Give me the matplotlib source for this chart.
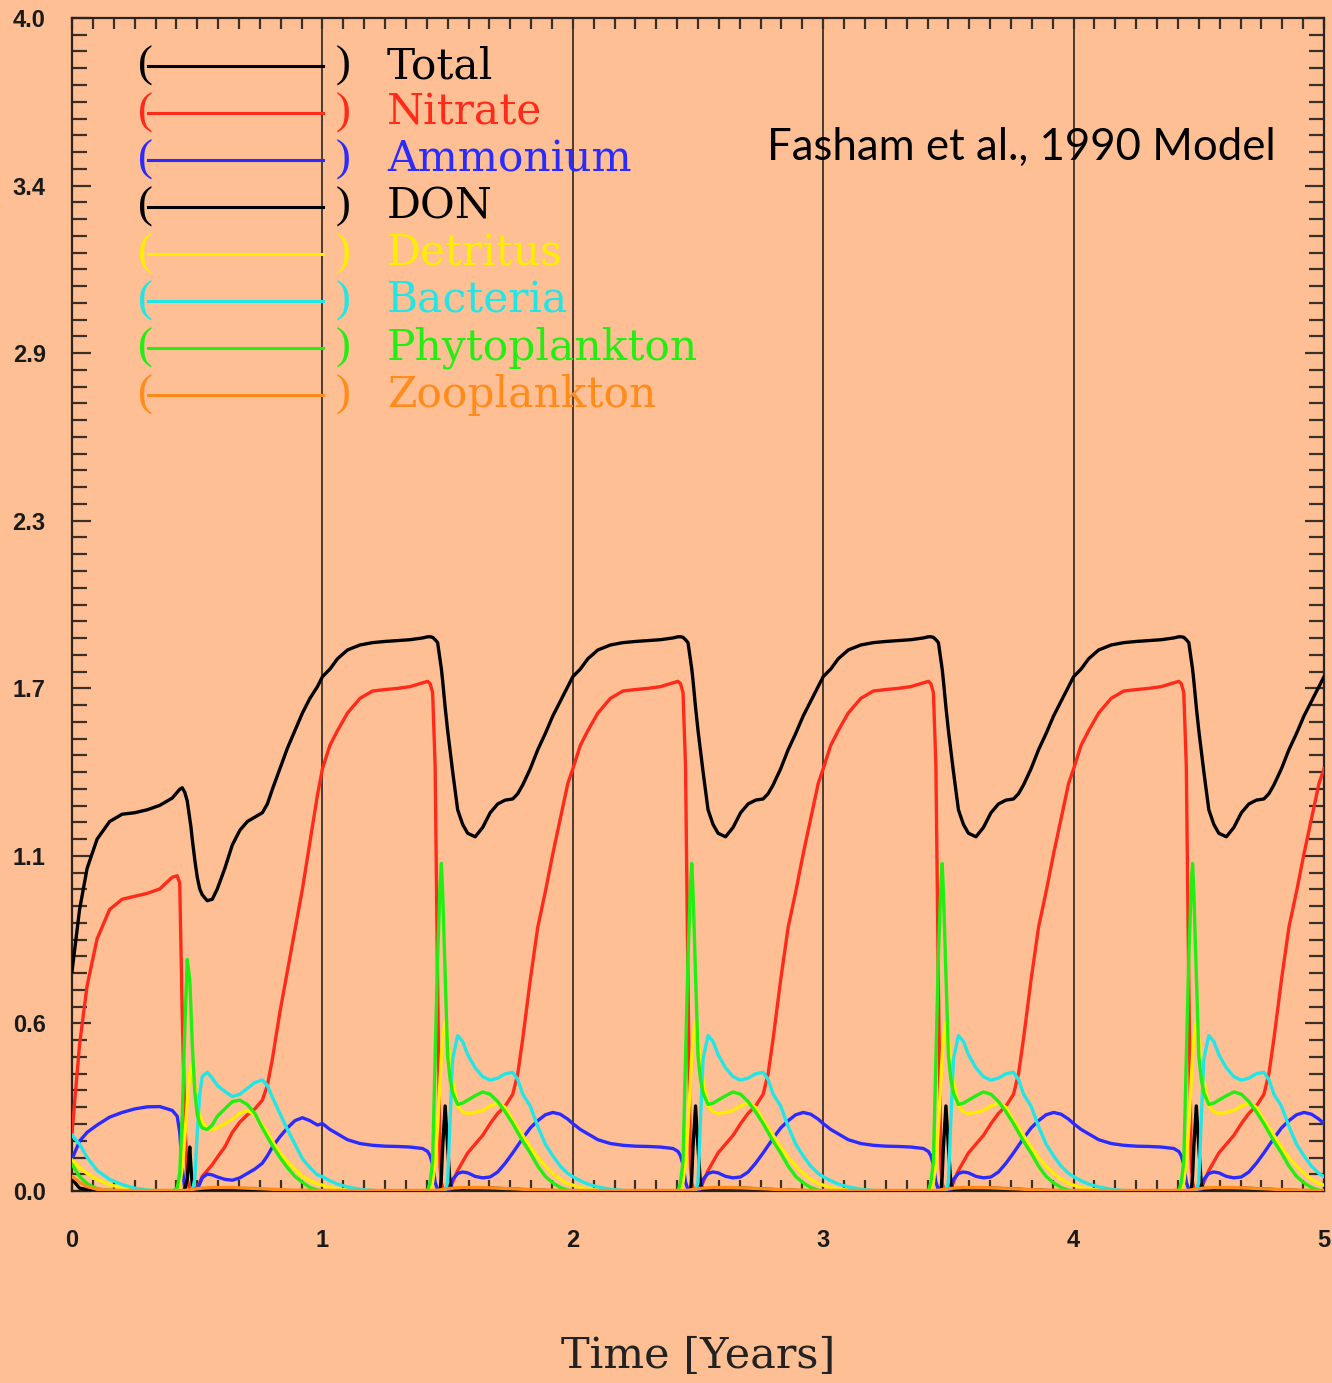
import numpy as np
import matplotlib
matplotlib.use("Agg")
import matplotlib.pyplot as plt
from matplotlib.ticker import FixedLocator, MultipleLocator

# Fasham et al. (1990) ecosystem model, 5 model years

# tick labels: small bold sans
plt.rcParams["font.family"] = "Liberation Sans"
plt.rcParams["font.weight"] = "bold"
plt.rcParams["font.size"] = 17

# phase within one model year (shared sampling for all series)
phase = [0.00, 0.03, 0.06, 0.10, 0.15, 0.20, 0.25, 0.30, 0.35, 0.40,
         0.42, 0.43, 0.44, 0.45, 0.46, 0.47, 0.475, 0.48, 0.49, 0.50,
         0.51, 0.52, 0.54, 0.56, 0.58, 0.61, 0.64, 0.67, 0.70, 0.73,
         0.76, 0.78, 0.80, 0.83, 0.86, 0.89, 0.92, 0.95, 0.98]

names = ["Total", "Nitrate", "Ammonium", "DON", "Detritus", "Bacteria",
         "Phytoplankton", "Zooplankton"]
colors = ["#000000", "#ff2a1a", "#2b2bff", "#000000", "#ffee00", "#22e6e6",
          "#22ee11", "#ff8c1a"]

# first (spin-up) year
total_y0 = [0.75, 0.96, 1.10, 1.20, 1.26, 1.285, 1.29, 1.30, 1.315, 1.34,
            1.36, 1.37, 1.375, 1.36, 1.33, 1.27, 1.24, 1.20, 1.13, 1.07,
            1.03, 1.01, 0.99, 0.995, 1.03, 1.10, 1.18, 1.23, 1.26, 1.275,
            1.29, 1.32, 1.37, 1.44, 1.51, 1.57, 1.63, 1.68, 1.72]
nitrate_y0 = [0.20, 0.50, 0.70, 0.86, 0.96, 0.995, 1.005, 1.015, 1.03, 1.07,
              1.075, 1.05, 0.60, 0.25, 0.04, 0.005, 0.0, 0.0, 0.0, 0.01,
              0.03, 0.05, 0.07, 0.09, 0.115, 0.15, 0.20, 0.235, 0.26, 0.28,
              0.31, 0.36, 0.45, 0.61, 0.75, 0.89, 1.03, 1.19, 1.35]
ammonium_y0 = [0.11, 0.17, 0.20, 0.225, 0.252, 0.268, 0.28, 0.287, 0.288, 0.275,
               0.255, 0.20, 0.08, 0.01, 0.0, 0.0, 0.0, 0.0, 0.0, 0.005,
               0.025, 0.045, 0.058, 0.055, 0.048, 0.04, 0.037, 0.045, 0.06, 0.075,
               0.095, 0.12, 0.15, 0.185, 0.215, 0.24, 0.25, 0.24, 0.225]
don_y0 = [0.04, 0.01, 0.005, 0.003, 0.002, 0.0, 0.0, 0.0, 0.0, 0.0,
          0.0, 0.0, 0.0, 0.005, 0.04, 0.15, 0.08, 0.02, 0.008, 0.006,
          0.006, 0.006, 0.007, 0.008, 0.008, 0.008, 0.008, 0.008, 0.007, 0.006,
          0.005, 0.004, 0.003, 0.002, 0.001, 0.0, 0.0, 0.0, 0.0]
detritus_y0 = [0.105, 0.08, 0.06, 0.04, 0.022, 0.01, 0.004, 0.0, 0.0, 0.0,
               0.0, 0.02, 0.08, 0.18, 0.30, 0.40, 0.43, 0.42, 0.36, 0.30,
               0.26, 0.235, 0.215, 0.21, 0.215, 0.23, 0.245, 0.265, 0.275, 0.26,
               0.225, 0.20, 0.17, 0.13, 0.10, 0.075, 0.05, 0.035, 0.025]
bacteria_y0 = [0.19, 0.16, 0.115, 0.07, 0.04, 0.022, 0.01, 0.004, 0.0, 0.0,
               0.0, 0.0, 0.0, 0.0, 0.0, 0.0, 0.0, 0.0, 0.04, 0.20,
               0.33, 0.39, 0.405, 0.385, 0.36, 0.34, 0.322, 0.33, 0.35, 0.37,
               0.379, 0.36, 0.32, 0.265, 0.21, 0.16, 0.11, 0.08, 0.055]
phyto_y0 = [0.09, 0.05, 0.025, 0.008, 0.002, 0.0, 0.0, 0.0, 0.0, 0.0,
            0.01, 0.06, 0.25, 0.55, 0.79, 0.72, 0.62, 0.50, 0.34, 0.26,
            0.23, 0.215, 0.21, 0.225, 0.255, 0.28, 0.305, 0.31, 0.295, 0.265,
            0.215, 0.185, 0.155, 0.115, 0.08, 0.05, 0.03, 0.012, 0.004]
zoo_y0 = [0.05, 0.03, 0.015, 0.006, 0.003, 0.002, 0.002, 0.002, 0.002, 0.002,
          0.002, 0.002, 0.002, 0.002, 0.003, 0.004, 0.005, 0.006, 0.007, 0.008,
          0.009, 0.01, 0.011, 0.012, 0.012, 0.012, 0.012, 0.011, 0.01, 0.009,
          0.008, 0.007, 0.006, 0.005, 0.004, 0.003, 0.003, 0.002, 0.002]

# repeating annual cycle (years 1-4)
total_cyc = [1.754, 1.78, 1.815, 1.845, 1.862, 1.870, 1.874, 1.877, 1.88, 1.886,
             1.89, 1.89, 1.888, 1.88, 1.87, 1.81, 1.78, 1.74, 1.65, 1.57,
             1.50, 1.43, 1.30, 1.25, 1.22, 1.208, 1.24, 1.29, 1.32, 1.333,
             1.337, 1.355, 1.385, 1.44, 1.505, 1.56, 1.62, 1.67, 1.72]
nitrate_cyc = [1.44, 1.52, 1.57, 1.63, 1.68, 1.705, 1.71, 1.714, 1.72, 1.733,
               1.738, 1.73, 1.70, 1.45, 0.70, 0.08, 0.03, 0.01, 0.0, 0.0,
               0.01, 0.03, 0.07, 0.10, 0.13, 0.16, 0.19, 0.23, 0.265, 0.29,
               0.33, 0.40, 0.52, 0.72, 0.90, 1.02, 1.15, 1.27, 1.39]
ammonium_cyc = [0.23, 0.21, 0.195, 0.175, 0.162, 0.156, 0.153, 0.152, 0.15, 0.145,
                0.135, 0.12, 0.09, 0.03, 0.005, 0.0, 0.0, 0.0, 0.0, 0.0,
                0.01, 0.04, 0.06, 0.065, 0.062, 0.05, 0.045, 0.048, 0.065, 0.095,
                0.13, 0.155, 0.18, 0.215, 0.24, 0.26, 0.268, 0.262, 0.245]
don_cyc = [0.0, 0.0, 0.0, 0.0, 0.0, 0.0, 0.0, 0.0, 0.0, 0.0,
           0.0, 0.0, 0.0, 0.0, 0.0, 0.0, 0.05, 0.15, 0.29, 0.15,
           0.02, 0.008, 0.008, 0.009, 0.01, 0.01, 0.01, 0.01, 0.009, 0.008,
           0.007, 0.006, 0.005, 0.004, 0.003, 0.002, 0.001, 0.0, 0.0]
detritus_cyc = [0.02, 0.012, 0.007, 0.003, 0.0, 0.0, 0.0, 0.0, 0.0, 0.0,
                0.0, 0.0, 0.03, 0.10, 0.22, 0.38, 0.46, 0.52, 0.577, 0.52,
                0.44, 0.38, 0.29, 0.27, 0.265, 0.268, 0.275, 0.29, 0.30, 0.285,
                0.24, 0.215, 0.19, 0.15, 0.115, 0.085, 0.06, 0.04, 0.025]
bacteria_cyc = [0.049, 0.035, 0.024, 0.014, 0.006, 0.002, 0.0, 0.0, 0.0, 0.0,
                0.0, 0.0, 0.0, 0.0, 0.0, 0.0, 0.0, 0.0, 0.0, 0.03,
                0.25, 0.45, 0.53, 0.51, 0.465, 0.42, 0.39, 0.378, 0.385, 0.40,
                0.405, 0.38, 0.33, 0.29, 0.22, 0.16, 0.12, 0.085, 0.06]
phyto_cyc = [0.0, 0.0, 0.0, 0.0, 0.0, 0.0, 0.0, 0.0, 0.0, 0.0,
             0.0, 0.03, 0.10, 0.45, 0.80, 1.05, 1.117, 1.02, 0.74, 0.46,
             0.38, 0.335, 0.295, 0.30, 0.31, 0.325, 0.338, 0.33, 0.305, 0.27,
             0.23, 0.20, 0.17, 0.13, 0.085, 0.05, 0.028, 0.012, 0.003]
zoo_cyc = [0.002, 0.002, 0.002, 0.002, 0.002, 0.002, 0.002, 0.002, 0.002, 0.002,
           0.002, 0.002, 0.002, 0.002, 0.003, 0.004, 0.005, 0.006, 0.007, 0.008,
           0.009, 0.01, 0.011, 0.012, 0.012, 0.012, 0.012, 0.011, 0.01, 0.009,
           0.008, 0.007, 0.006, 0.005, 0.004, 0.003, 0.003, 0.002, 0.002]

n_years = 5
ytick_labels = ["0.0", "0.6", "1.1", "1.7", "2.3", "2.9", "3.4", "4.0"]
xtick_labels = ["0", "1", "2", "3", "4", "5"]

first_year = [total_y0, nitrate_y0, ammonium_y0, don_y0, detritus_y0,
              bacteria_y0, phyto_y0, zoo_y0]
cycles = [total_cyc, nitrate_cyc, ammonium_cyc, don_cyc, detritus_cyc,
          bacteria_cyc, phyto_cyc, zoo_cyc]

ph = np.array(phase)
time = np.concatenate([yr + ph for yr in range(n_years)] + [[float(n_years)]])

bg = "#febf94"
fig = plt.figure(figsize=(13.32, 13.83), dpi=100, facecolor=bg)
ax = fig.add_axes([0.0541, 0.1388, 0.9399, 0.8482], facecolor=bg)

# year separators
for yr in range(1, n_years):
    ax.axvline(yr, color="#3c3028", lw=1.3, zorder=1)

for y0, cyc, col in zip(first_year, cycles, colors):
    vals = np.concatenate([y0] + [cyc] * (n_years - 1) + [cyc[:1]])
    ax.plot(time, vals, color=col, lw=2.4, zorder=3, solid_joinstyle="round")

ax.set_xlim(0, n_years)
ax.set_ylim(0, 4)

# axes / ticks
for s in ax.spines.values():
    s.set_linewidth(1.6)
    s.set_color("#2a2420")
ax.yaxis.set_major_locator(FixedLocator(np.linspace(0, 4, len(ytick_labels))))
ax.set_yticklabels(ytick_labels)
ax.yaxis.set_minor_locator(MultipleLocator(4 / 70))
ax.xaxis.set_major_locator(FixedLocator(range(n_years + 1)))
ax.set_xticklabels(xtick_labels)
ax.xaxis.set_minor_locator(MultipleLocator(1 / 12))
ax.tick_params(axis="y", which="both", direction="in", left=True, right=True,
               color="#3a3028", width=1.6, pad=19, labelsize=17,
               labelcolor="#1a1a1a")
ax.tick_params(axis="y", which="major", length=13.5)
ax.tick_params(axis="y", which="minor", length=10.5)
ax.tick_params(axis="x", which="both", direction="in", top=True, bottom=True,
               color="#3a3028", width=1.6, pad=27, length=8, labelsize=17,
               labelcolor="#1a1a1a")

# IDL-style legend
x_line0, x_line1 = 0.0607, 0.2005
for i, (name, col) in enumerate(zip(names, colors)):
    yy = 0.959 - i * 0.04
    ax.plot([x_line0, x_line1], [yy, yy], transform=ax.transAxes, color=col,
            lw=2.2, zorder=4)
    ax.text(0.0583, yy, "(", transform=ax.transAxes, color=col, fontsize=32,
            family="Liberation Serif", weight="normal", ha="center",
            va="center", zorder=4)
    ax.text(0.2165, yy, ")", transform=ax.transAxes, color=col, fontsize=32,
            family="Liberation Serif", weight="normal", ha="center",
            va="center", zorder=4)
    ax.text(0.2516, yy, name, transform=ax.transAxes, color=col, fontsize=30.5,
            family="DejaVu Serif", weight="normal", ha="left", va="center",
            zorder=4)

ax.text(0.555, 0.890, "Fasham et al., 1990 Model", transform=ax.transAxes,
        fontsize=31.5, family="Lato", weight="normal", ha="left", va="center",
        color="black")

fig.text(0.524, 0.0195, "Time [Years]", fontsize=31, family="DejaVu Serif",
         weight="normal", ha="center", va="center", color="#222222")

fig.savefig("out.png", dpi=100, facecolor=bg)
